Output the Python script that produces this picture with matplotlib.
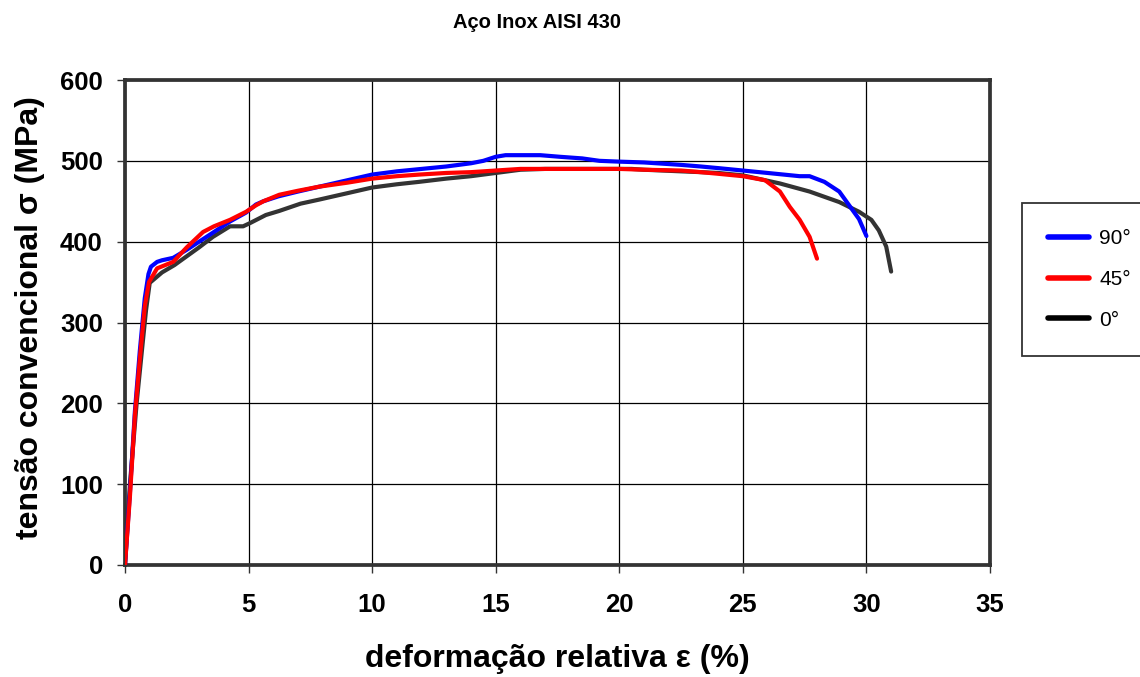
import matplotlib
matplotlib.use("Agg")
import matplotlib.pyplot as plt
from matplotlib.lines import Line2D

plt.rcParams['font.family'] = ['Liberation Sans', 'DejaVu Sans']

# Data (deformação relativa %, tensão MPa)
x90 = [0, 0.2, 0.4, 0.6, 0.8, 0.95, 1.05, 1.3, 1.5, 1.95, 2.5, 3.0, 3.6, 4.25, 4.9, 5.3, 5.6, 6.2, 7.0, 8.0, 9.0, 10.0, 11.0, 12.0, 13.0, 14.0, 14.5, 15.0, 15.4, 16.0, 16.8, 17.6, 18.5, 19.2, 20.0, 21.0, 22.5, 23.3, 24.0, 25.0, 26.0, 27.3, 27.7, 28.3, 28.9, 29.3, 29.7, 30.0]
y90 = [0, 90, 190, 265, 330, 360, 369, 375, 377, 380, 390, 400, 412, 425, 436, 446, 450, 456, 462, 469, 476, 483, 487, 490, 493, 497, 500, 505, 507, 507, 507, 505, 503, 500, 499, 498, 495, 493, 491, 488, 485, 481, 481, 474, 462, 445, 428, 407]

x45 = [0, 0.2, 0.4, 0.6, 0.8, 0.97, 1.3, 1.95, 2.5, 3.16, 3.6, 4.25, 4.9, 5.3, 5.6, 6.24, 7.0, 7.85, 9.0, 10.0, 11.0, 11.9, 13.0, 14.0, 15.0, 16.0, 17.0, 18.0, 19.0, 20.0, 21.0, 22.5, 23.3, 24.0, 25.0, 25.9, 26.5, 26.9, 27.3, 27.7, 28.0]
y45 = [0, 85, 185, 255, 320, 350, 367, 375, 393, 412, 419, 427, 437, 445, 450, 458, 463, 468, 473, 478, 481, 483, 485, 486, 488, 490, 490, 490, 490, 490, 489, 488, 486, 484, 481, 476, 462, 443, 427, 406, 379]

x0 = [0, 0.2, 0.47, 0.7, 0.85, 1.0, 1.5, 2.0, 2.5, 3.0, 3.56, 4.25, 4.78, 5.06, 5.7, 6.24, 7.1, 7.85, 9.0, 10.0, 11.0, 11.9, 13.0, 14.0, 15.0, 16.0, 17.0, 18.0, 19.0, 20.0, 20.5, 21.0, 22.5, 23.3, 24.0, 25.0, 26.5, 27.7, 28.9, 29.7, 30.2, 30.5, 30.8, 31.0]
y0 = [0, 100, 200, 270, 315, 349, 362, 371, 382, 393, 406, 419, 419, 423, 433, 438, 447, 452, 460, 467, 471, 474, 478, 481, 485, 489, 490, 490, 490, 490, 490, 489, 487, 486, 485, 482, 472, 462, 449, 437, 427, 414, 394, 363]

series_labels = ['90°', '45°', '0°']
series_colors = ['#0000ff', '#ff0000', '#333333']
legend_colors = ['#0000ff', '#ff0000', '#000000']

fig = plt.figure(figsize=(11.4, 6.77), dpi=100)
ax = fig.add_axes([125/1140, 1-565/677, 865/1140, 485/677])

ax.plot(x90, y90, color=series_colors[0], lw=3.0, solid_capstyle='round', solid_joinstyle='round', zorder=3)
ax.plot(x45, y45, color=series_colors[1], lw=3.0, solid_capstyle='round', solid_joinstyle='round', zorder=4)
ax.plot(x0, y0, color=series_colors[2], lw=3.0, solid_capstyle='round', solid_joinstyle='round', zorder=2)

ax.set_xlim(0, 35)
ax.set_ylim(0, 600)
ax.set_xticks(range(0, 36, 5))
ax.set_yticks(range(0, 601, 100))
ax.grid(True, color='black', lw=0.9)
ax.set_axisbelow(True)
for s in ax.spines.values():
    s.set_linewidth(2.7)
    s.set_color('#333333')
ax.tick_params(direction='out', length=6, width=1, color='#333333')
ax.tick_params(axis='x', pad=14)
ax.tick_params(axis='y', pad=10)
for lab in ax.get_xticklabels() + ax.get_yticklabels():
    lab.set_fontsize(18.5)
    lab.set_fontweight('bold')

ax.set_xlabel('deformação relativa ε (%)', fontsize=23, fontweight='bold')
ax.xaxis.set_label_coords(0.5, -0.163)
ax.set_ylabel('tensão convencional σ (MPa)', fontsize=23, fontweight='bold')
ax.yaxis.set_label_coords(-0.092, 0.51)

fig.text(537/1140, 1-22/677, 'Aço Inox AISI 430', ha='center', va='center',
         fontsize=14.5, fontweight='bold')

handles = [Line2D([0], [0], color=c, lw=4, solid_capstyle='round') for c in legend_colors]
leg = fig.legend(handles, series_labels, loc='upper left',
                 bbox_to_anchor=(1022/1140, 1-203/677), bbox_transform=fig.transFigure,
                 frameon=True, fancybox=False, edgecolor='black', fontsize=15,
                 handlelength=1.95, labelspacing=1.05, borderpad=1.25, borderaxespad=0,
                 handletextpad=0.5)
leg.get_frame().set_linewidth(1.3)

fig.savefig('out.png', dpi=100)
